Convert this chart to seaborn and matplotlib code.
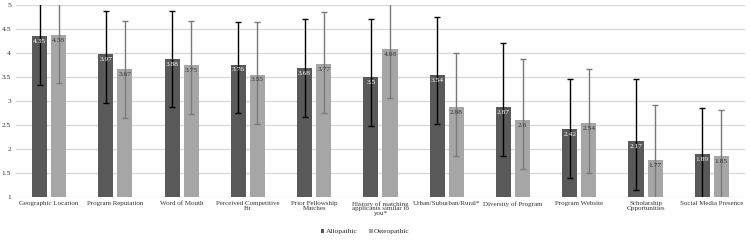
import numpy as np
import pandas as pd
import matplotlib
matplotlib.use("Agg")
import matplotlib.pyplot as plt
import seaborn as sns
from matplotlib.patches import Patch

categories = ["Geographic Location", "Program Reputation", "Word of Mouth",
              "Perceived Competitive\nFit", "Prior Fellowship\nMatches",
              "History of matching\napplicants similar to\nyou*", "Urban/Suburban/Rural*",
              "Diversity of Program", "Program Website", "Scholarship\nOpportunities",
              "Social Media Presence"]
groups = ["Allopathic", "Osteopathic"]
allopathic = [4.35, 3.97, 3.88, 3.76, 3.68, 3.5, 3.54, 2.87, 2.42, 2.17, 1.89]
osteopathic = [4.38, 3.67, 3.75, 3.55, 3.77, 4.08, 2.88, 2.6, 2.54, 1.77, 1.85]
allo_err_low = [1.02, 1.02, 1.01, 1.01, 1.01, 1.01, 1.01, 1.02, 1.02, 1.02, 1.0]
allo_err_high = [1.0, 0.91, 1.0, 0.88, 1.02, 1.2, 1.21, 1.33, 1.03, 1.28, 0.97]
osteo_err_low = [1.0, 1.02, 1.01, 1.02, 1.02, 1.02, 1.02, 1.02, 1.03, 1.0, 1.0]
osteo_err_high = [1.0, 0.99, 0.91, 1.09, 1.08, 1.0, 1.13, 1.27, 1.13, 1.15, 0.97]
yticks = [1, 1.5, 2, 2.5, 3, 3.5, 4, 4.5, 5]

df = pd.DataFrame({
    "Factor": categories * 2,
    "Mean": allopathic + osteopathic,
    "Group": [groups[0]] * len(categories) + [groups[1]] * len(categories),
})

sns.set_theme(style="white")
plt.rcParams["font.family"] = ["Liberation Serif", "DejaVu Serif"]

fig = plt.figure(figsize=(7.5, 2.4), dpi=100)
ax = fig.add_axes([0.0213, 0.179, 0.972, 0.8])

colors = {"Allopathic": "#595959", "Osteopathic": "#a6a6a6"}
sns.barplot(data=df, x="Factor", y="Mean", hue="Group", palette=colors,
            errorbar=None, width=0.576, gap=0.21, ax=ax, legend=False,
            linewidth=0)

err_colors = ["#000000", "#7a7a7a"]
label_colors = ["#ffffff", "#333333"]
errs = [(allo_err_low, allo_err_high), (osteo_err_low, osteo_err_high)]
vals = [allopathic, osteopathic]
bar_containers = list(ax.containers)
for i, cont in enumerate(bar_containers):
    xs = [b.get_x() + b.get_width() / 2 for b in cont.patches]
    ax.errorbar(xs, vals[i], yerr=[errs[i][0], errs[i][1]], fmt="none",
                ecolor=err_colors[i], elinewidth=1.0, capsize=2, capthick=1.0,
                zorder=3)
    for x, v in zip(xs, vals[i]):
        ax.annotate(f"{v:g}", (x, v), xytext=(0, -2), textcoords="offset points",
                    ha="center", va="top", fontsize=5.4, color=label_colors[i],
                    zorder=4)

ax.set_ylim(1, 5)
ax.set_xlim(-0.5, len(categories) - 0.5)
ax.set_yticks(yticks)
ax.set_yticklabels([f"{t:g}" for t in yticks])
ax.yaxis.grid(True, color="#d9d9d9", linewidth=1)
ax.set_axisbelow(True)
for s in ax.spines.values():
    s.set_visible(False)
ax.tick_params(axis="both", length=0, labelsize=5.4, colors="#333333")
ax.tick_params(axis="x", labelsize=5.0, pad=3)
ax.tick_params(axis="y", pad=3.5)
for lab in ax.get_xticklabels():
    lab.set_linespacing(0.9)
ax.set_xlabel("")
ax.set_ylabel("")

handles = [Patch(facecolor=colors[g], edgecolor="none") for g in groups]
fig.legend(handles, groups, loc="center", bbox_to_anchor=(0.487, 0.035),
           ncol=2, frameon=False, fontsize=5.4, handlelength=0.5,
           handleheight=0.5, handletextpad=0.2, columnspacing=1.5)

fig.savefig("out.png", dpi=100)
